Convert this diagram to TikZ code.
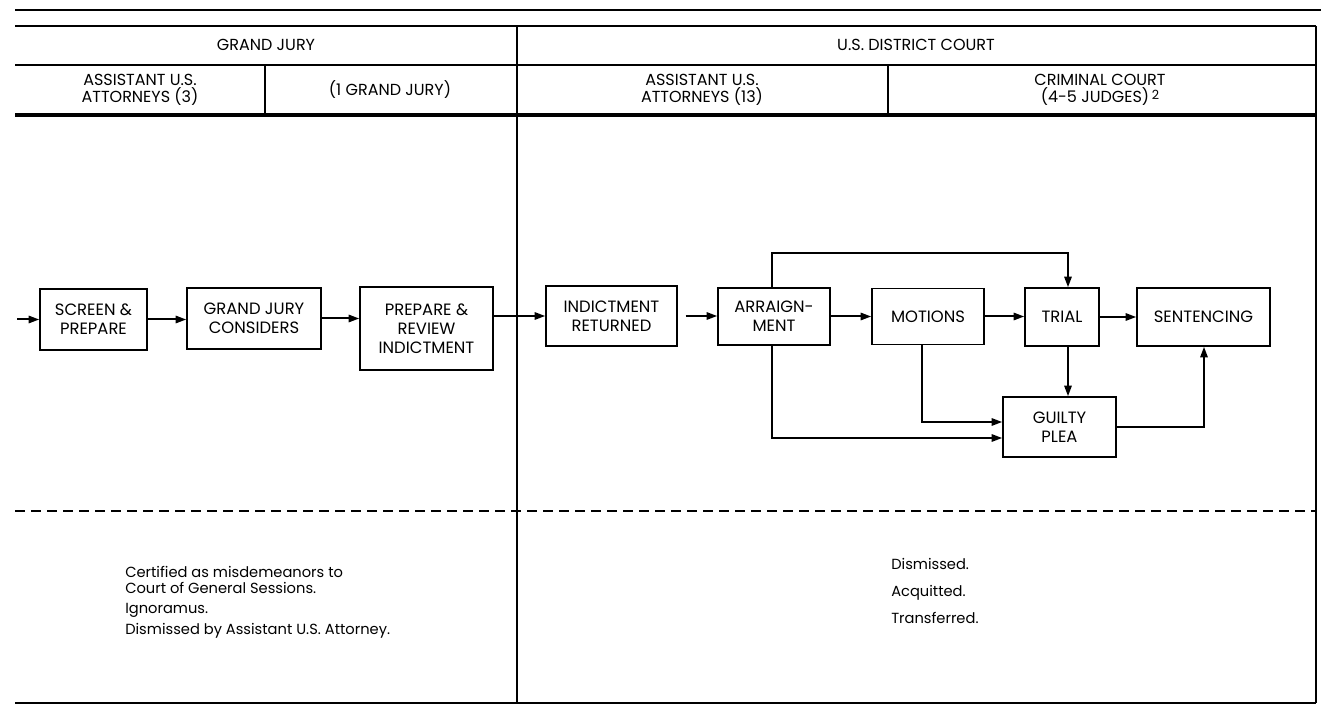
\documentclass[tikz,border=0pt]{standalone}
\usepackage{fontspec}
\setmainfont{Poppins}
\usetikzlibrary{arrows.meta,calc}
\newcommand\bxfont{\fontsize{12.3}{14.25}\selectfont}
\newcommand\hdfont{\fontsize{12}{13}\selectfont}
\newcommand\ntfont{\fontsize{11}{11.5}\selectfont}
\begin{document}
\begin{tikzpicture}[x=0.75pt,y=-0.75pt,
  frame/.style={line width=1.4pt},
  heavy/.style={line width=3pt},
  box/.style={draw, line width=1.1pt, align=center, inner sep=0pt, font=\bxfont},
  flow/.style={line width=1.5pt, -{Triangle[length=8pt,width=5.5pt]}},
  head/.style={align=center, font=\hdfont, inner sep=1pt},
  note/.style={anchor=base west, inner sep=0pt, font=\ntfont}]
\useasboundingbox (0,0) rectangle (1321,716);

% ---- ruled frame ----
\draw[frame] (15,10) -- (1321,10);
\draw[frame] (15,26) -- (1316,26);
\draw[frame] (15,65) -- (1316,65);
\draw[heavy] (15,115) -- (1316,115);
\draw[frame] (1316,26) -- (1316,703);
\draw[frame] (517,26) -- (517,703);
\draw[frame] (265,65) -- (265,115);
\draw[frame] (888,65) -- (888,115);
\draw[frame, dash pattern=on 7.5pt off 4.5pt] (15,511) -- (1316,511);
\draw[frame] (15,703) -- (1316,703);

% ---- column headings ----
\node[head] (hgj)  at (266,45)  {GRAND JURY};
\node[head] (hdc)  at (916,45)  {U.S. DISTRICT COURT};
\node[head] (hau1) at (140,90)  {ASSISTANT U.S.\\ATTORNEYS (3)};
\node[head] (hgj1) at (390,90)  {(1 GRAND JURY)};
\node[head] (hau2) at (702,90)  {ASSISTANT U.S.\\ATTORNEYS (13)};
\node[head] (hcc)  at (1100,90) {CRIMINAL COURT\\(4-5 JUDGES)\,\raisebox{2.5pt}{\fontsize{9.5}{9.5}\selectfont 2}};

% ---- process boxes ----
\node[box, minimum width=80.25pt, minimum height=45.75pt] (scr) at (93.5,319.5) {SCREEN \&\\PREPARE};
\node[box, minimum width=100.5pt, minimum height=45.75pt] (gjc) at (254,318.5) {GRAND JURY\\CONSIDERS};
\node[box, minimum width=99.75pt, minimum height=62.25pt] (pri) at (426.5,328.5) {PREPARE \&\\REVIEW\\INDICTMENT};
\node[box, minimum width=98.25pt, minimum height=45pt] (ind) at (611.5,316) {INDICTMENT\\RETURNED};
\node[box, minimum width=84pt, minimum height=42.75pt] (arr) at (774,316.5) {ARRAIGN-\\MENT};
\node[box, minimum width=84pt, minimum height=42pt] (mot) at (928,316.5) {MOTIONS};
\node[box, minimum width=55.5pt, minimum height=43.5pt] (tri) at (1062,317) {TRIAL};
\node[box, minimum width=99.75pt, minimum height=43.5pt] (sen) at (1203.5,317) {SENTENCING};
\node[box, minimum width=84.75pt, minimum height=45pt] (gui) at (1059.5,427) {GUILTY\\PLEA};

% ---- routing points ----
\coordinate (in) at (17,319.5);
\coordinate (ax) at (772,253);
\coordinate (tx) at (1068,253);
\coordinate (m1) at (922,422);
\coordinate (a1) at (772,438);
\coordinate (g1) at (1204,427);

% ---- connectors ----
\draw[flow] (in) -- (scr.west);
\draw[flow] (scr.east) -- (scr.east -| gjc.west);
\draw[flow] (gjc.east) -- (gjc.east -| pri.west);
\draw[flow] (pri.east |- ind.west) -- (ind.west);
\draw[flow, shorten <=6pt] (ind.east) -- (ind.east -| arr.west);
\draw[flow] (arr.east) -- (arr.east -| mot.west);
\draw[flow] (mot.east) -- (mot.east -| tri.west);
\draw[flow] (tri.east) -- (tri.east -| sen.west);
\draw[flow] (arr.north -| ax) -- (ax) -- (tx) -- (tx |- tri.north);
\draw[flow] (tx |- tri.south) -- (tx |- gui.north);
\draw[flow] (m1 |- mot.south) -- (m1) -- (gui.west |- m1);
\draw[flow] (a1 |- arr.south) -- (a1) -- (gui.west |- a1);
\draw[flow] (gui.east) -- (g1) -- (g1 |- sen.south);

% ---- outcomes ----
\node[note] (n1a) at (125,577) {Certified as misdemeanors to};
\node[note] (n1b) at (125,593) {Court of General Sessions.};
\node[note] (n2)  at (125,613) {Ignoramus.};
\node[note] (n3)  at (125,634) {Dismissed by Assistant U.S. Attorney.};
\node[note] (n4)  at (891,569) {Dismissed.};
\node[note] (n5)  at (891,596) {Acquitted.};
\node[note] (n6)  at (891,623) {Transferred.};
\end{tikzpicture}
\end{document}
